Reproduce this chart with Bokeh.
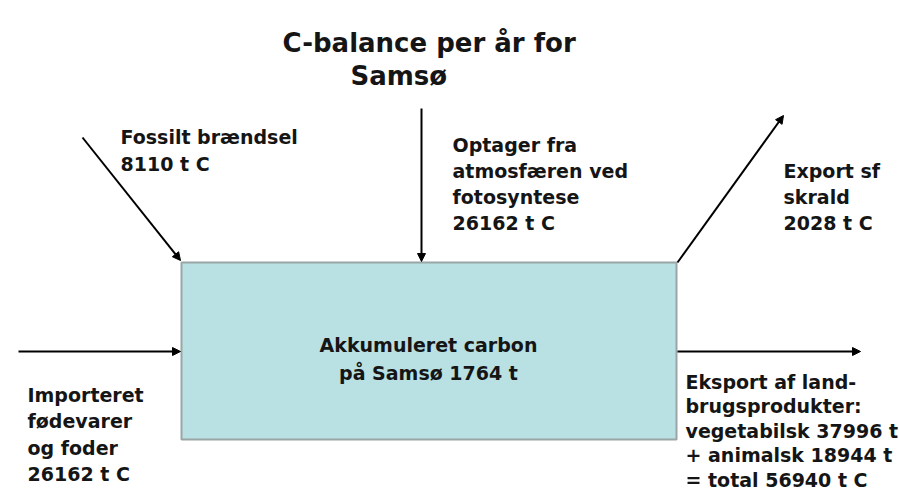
from bokeh.plotting import figure
from bokeh.models import Range1d, Arrow, NormalHead, ColumnDataSource
from bokeh.core.properties import value
from bokeh.embed import file_html
from bokeh.resources import INLINE

# ---- data (tonnes C per year) ----
title_lines = ["C-balance per år for", "Samsø"]
fossil_fuel = 8110
photosynthesis = 26162
waste_export = 2028
food_import = 26162
export_vegetable = 37996
export_animal = 18944
export_total = 56940
accumulated = 1764

fossil_lines = ["Fossilt brændsel", f"{fossil_fuel} t C"]
photo_lines = ["Optager fra", "atmosfæren ved", "fotosyntese", f"{photosynthesis} t C"]
waste_lines = ["Export sf", "skrald", f"{waste_export} t C"]
import_lines = ["Importeret", "fødevarer", "og foder", f"{food_import} t C"]
export_lines = ["Eksport af land-", "brugsprodukter:",
                f"vegetabilsk {export_vegetable} t",
                f"+ animalsk {export_animal} t",
                f"= total {export_total} t C"]
box_lines = ["Akkumuleret carbon", f"på Samsø {accumulated} t"]

W, H = 899, 493
p = figure(width=W, height=H, output_backend="svg", toolbar_location=None,
           x_range=Range1d(0, W), y_range=Range1d(H, 0),
           min_border=0, outline_line_color=None, background_fill_color="white")
p.axis.visible = False
p.grid.visible = False

FONT = value("DejaVu Sans")
TXT = "#151515"

# central box
p.quad(left=[181], right=[676], top=[262], bottom=[439],
       fill_color="#b9e0e2", line_color="#9aa6a6", line_width=2)

# arrows
arrows = [
    ((82, 137), (180, 260)),
    ((421, 108), (421, 261)),
    ((677, 262), (783, 115)),
    ((18, 351), (180, 351)),
    ((677, 351), (860, 351)),
]
for (x0, y0), (x1, y1) in arrows:
    p.add_layout(Arrow(end=NormalHead(size=8, fill_color="black", line_color="black"),
                       x_start=x0, y_start=y0, x_end=x1, y_end=y1,
                       line_color="black", line_width=2))

def block(lines, x, y0, dy, size="19px", align="left"):
    src = ColumnDataSource(dict(x=[x] * len(lines),
                                y=[y0 + i * dy for i in range(len(lines))],
                                t=lines))
    p.text(x="x", y="y", text="t", source=src, text_font=FONT,
           text_font_style="bold", text_font_size=size, text_color=TXT,
           text_align=align, text_baseline="alphabetic")

# title
p.text(x=[282], y=[42], text=[title_lines[0]], text_font=FONT, text_font_style="bold",
       text_font_size="26px", text_color=TXT, text_baseline="alphabetic")
p.text(x=[350], y=[75], text=[title_lines[1]], text_font=FONT, text_font_style="bold",
       text_font_size="26px", text_color=TXT, text_baseline="alphabetic")

block(fossil_lines, 120, 136, 27)
block(photo_lines, 452, 144, 26.3)
block(waste_lines, 783, 170, 26)
block(import_lines, 27, 394, 26.5)
block(export_lines, 685, 381, 24.5)
block(box_lines, 428, 344, 28, align="center")

open("out.html", "w").write(file_html(p, INLINE))
